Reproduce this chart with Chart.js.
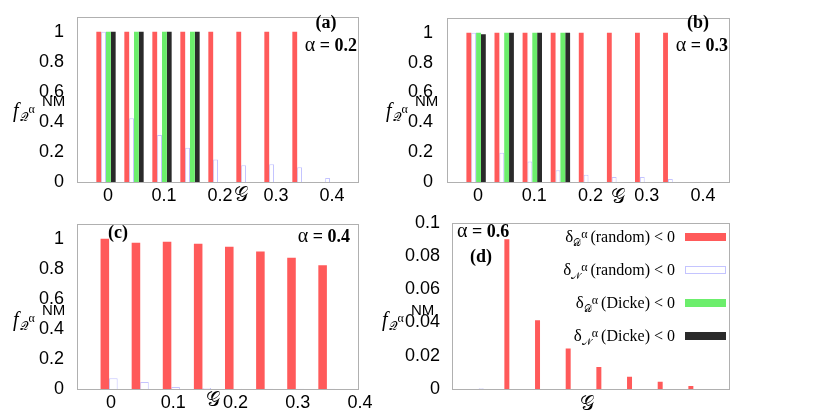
<!DOCTYPE html>
<html>
<head>
<meta charset="utf-8">
<script src="https://cdn.jsdelivr.net/npm/chart.js@4.4.0/dist/chart.umd.min.js"></script>
<style>
  html, body { margin: 0; padding: 0; background: #fff; }
  #wrap { position: relative; width: 830px; height: 415px; overflow: hidden; }
  canvas { position: absolute; }
</style>
</head>
<body>
<div id="wrap">
  <canvas id="pa" width="380" height="207" style="left:0;top:0"></canvas>
  <canvas id="pb" width="450" height="207" style="left:380px;top:0"></canvas>
  <canvas id="pc" width="380" height="208" style="left:0;top:207px"></canvas>
  <canvas id="pd" width="450" height="208" style="left:380px;top:207px"></canvas>
</div>
<script>
// G values (x categories)
const gLong = [0, 0.05, 0.10, 0.15, 0.20, 0.25, 0.30, 0.35, 0.40];
const gShort = [0, 0.05, 0.10, 0.15, 0.20, 0.25, 0.30, 0.35];
const xTickVals = [0, 0.1, 0.2, 0.3, 0.4];
const yTickVals = [0, 0.2, 0.4, 0.6, 0.8, 1];
const yTickValsD = [0, 0.02, 0.04, 0.06, 0.08, 0.1];

// (a) alpha = 0.2
const redA   = [1, 1, 1, 1, 1, 1, 1, 1, 0];
const blueA  = [1, 0.424, 0.313, 0.228, 0.150, 0.111, 0.119, 0.098, 0.026];
const greenA = [1, 1, 1, 1, 0, 0, 0, 0, 0];
const blackA = [1, 1, 1, 1, 0, 0, 0, 0, 0];

// (b) alpha = 0.3
const redB   = [1, 1, 1, 1, 1, 1, 1, 1, 0];
const blueB  = [1, 0.196, 0.137, 0.078, 0.048, 0.033, 0.033, 0.020, 0.002];
const greenB = [1, 1, 1, 1, 0, 0, 0, 0, 0];
const blackB = [0.99, 1, 1, 1, 0, 0, 0, 0, 0];

// (c) alpha = 0.4
const redC  = [1, 0.974, 0.980, 0.967, 0.948, 0.915, 0.874, 0.824];
const blueC = [0.072, 0.046, 0.013, 0.006, 0.002, 0.001, 0.001, 0.001];

// (d) alpha = 0.6
const redD   = [0, 0.0901, 0.0414, 0.0243, 0.0132, 0.0073, 0.0043, 0.0018];
const blueD  = [0.0004, 0, 0, 0, 0, 0, 0, 0];
const greenD = [0, 0, 0, 0, 0, 0, 0, 0];
const blackD = [0, 0, 0, 0, 0, 0, 0, 0];

const legendSub  = ["𝒟", "𝒩", "𝒟", "𝒩"];
const legendKind = ["(random)", "(random)", "(Dicke)", "(Dicke)"];

const RED = "#ff5a5a", BLUE = "#c4c4ff", GREEN = "#6cee6c", BLACK = "#2a2a2a";
const SANS = '"Liberation Sans", Arial, sans-serif';
const SERIF = '"Liberation Serif", "Times New Roman", serif';
const MATH = '"DejaVu Serif", "DejaVu Sans", serif';

function drawRich(ctx, x, y, parts, align) {
  let w = 0;
  parts.forEach(p => { ctx.font = p.f; w += ctx.measureText(p.t).width + (p.dx || 0); });
  if (align === "right") x -= w;
  if (align === "center") x -= w / 2;
  parts.forEach(p => {
    ctx.font = p.f;
    ctx.fillText(p.t, x, y + (p.dy || 0));
    x += ctx.measureText(p.t).width + (p.dx || 0);
  });
}

function yTitle(ctx, x, y) {
  ctx.fillStyle = "#000";
  ctx.textBaseline = "alphabetic";
  drawRich(ctx, x, y, [
    { t: "f", f: "italic 20px " + SERIF, dx: 1 },
    { t: "𝒬", f: "12px " + MATH, dy: 4 },
    { t: "α", f: "12px " + SERIF, dy: -4 }
  ]);
  ctx.font = "15px " + SANS;
  ctx.fillText("NM", x + 29, y - 11);
}

function xTitle(ctx, x, y) {
  ctx.fillStyle = "#000";
  ctx.textBaseline = "middle";
  ctx.textAlign = "center";
  ctx.font = "20px " + MATH;
  ctx.fillText("𝒢", x, y);
  ctx.textAlign = "left";
}

function alphaLabel(ctx, x, y, val, align) {
  ctx.fillStyle = "#000";
  ctx.textBaseline = "middle";
  drawRich(ctx, x, y, [
    { t: "α", f: "20px " + SERIF },
    { t: " = " + val, f: "bold 18px " + SERIF }
  ], align);
}

function tagLabel(ctx, x, y, txt, align) {
  ctx.fillStyle = "#000";
  ctx.textBaseline = "middle";
  ctx.font = "bold 18px " + SERIF;
  ctx.textAlign = align || "left";
  ctx.fillText(txt, x, y);
  ctx.textAlign = "left";
}

function deco(extra) {
  return {
    id: "deco",
    beforeDraw(chart) {
      const ctx = chart.ctx;
      ctx.save();
      ctx.fillStyle = "#fff";
      ctx.fillRect(0, 0, chart.width, chart.height);
      ctx.restore();
    },
    afterDraw(chart) {
      const ctx = chart.ctx, a = chart.chartArea;
      ctx.save();
      ctx.strokeStyle = "#b0b0b0";
      ctx.lineWidth = 1;
      ctx.strokeRect(Math.round(a.left) - 0.5, Math.round(a.top) + 0.5,
        Math.round(a.right - a.left) + 1, Math.round(a.bottom - a.top));
      extra(ctx, chart);
      ctx.restore();
    }
  };
}

function panel(id, p) {
  const datasets = p.series.map(s => ({
    data: s.data.map((v, i) => ({ x: p.cats[i], y: v })),
    backgroundColor: s.fill,
    borderColor: s.line || s.fill,
    borderWidth: s.line ? 1 : 0,
    categoryPercentage: p.catPct,
    barPercentage: 1
  }));
  new Chart(document.getElementById(id), {
    type: "bar",
    data: { datasets },
    plugins: [deco(p.draw)],
    options: {
      responsive: false,
      animation: false,
      events: [],
      layout: { padding: { left: 0, top: 13, right: p.padRight, bottom: 0 } },
      plugins: { legend: { display: false }, tooltip: { enabled: false } },
      scales: {
        x: {
          type: "linear",
          min: p.xMin, max: p.xMax,
          offset: false,
          grid: { display: false, offset: false },
          border: { display: false },
          ticks: {
            display: p.showX,
            font: { family: SANS, size: 18 },
            color: "#000",
            padding: -5,
            labelOffset: p.xLabelShift,
            maxRotation: 0,
            callback: v => String(v)
          },
          afterBuildTicks: s => { s.ticks = xTickVals.map(v => ({ value: v })); },
          afterFit: s => { s.height = p.xH; }
        },
        y: {
          min: 0, max: p.yMax,
          grid: { display: false },
          border: { display: false },
          ticks: {
            font: { family: SANS, size: 18 },
            color: "#000",
            padding: p.yPad,
            callback: v => String(v)
          },
          afterBuildTicks: s => { s.ticks = p.yTicks.map(v => ({ value: v })); },
          afterFit: s => { s.width = p.frameLeft; }
        }
      }
    }
  });
}

panel("pa", {
  cats: gLong, xMin: -0.05, xMax: 0.45, yMax: 1.1, yTicks: yTickVals,
  showX: true, frameLeft: 78, padRight: 22, yPad: 6, xH: 25, catPct: 0.69, xLabelShift: 2,
  series: [
    { data: redA, fill: RED }, { data: blueA, fill: "#ffffff", line: BLUE },
    { data: greenA, fill: GREEN }, { data: blackA, fill: BLACK }
  ],
  draw(ctx) {
    yTitle(ctx, 13, 117);
    xTitle(ctx, 241, 196);
    tagLabel(ctx, 326, 23, "(a)", "center");
    alphaLabel(ctx, 357, 46, "0.2", "right");
  }
});

panel("pb", {
  cats: gLong, xMin: -0.05, xMax: 0.45, yMax: 1.1, yTicks: yTickVals,
  showX: true, frameLeft: 68, padRight: 101, yPad: 7, xH: 25, catPct: 0.69, xLabelShift: 2,
  series: [
    { data: redB, fill: RED }, { data: blueB, fill: "#ffffff", line: BLUE },
    { data: greenB, fill: GREEN }, { data: blackB, fill: BLACK }
  ],
  draw(ctx) {
    yTitle(ctx, 6, 117);
    xTitle(ctx, 238, 198);
    tagLabel(ctx, 318, 23, "(b)", "center");
    alphaLabel(ctx, 348, 46, "0.3", "right");
  }
});

panel("pc", {
  cats: gShort, xMin: -0.05, xMax: 0.40, yMax: 1.1, yTicks: yTickVals,
  showX: true, frameLeft: 78, padRight: 22, yPad: 6, xH: 26, catPct: 0.55, xLabelShift: 2,
  series: [
    { data: redC, fill: RED }, { data: blueC, fill: "#ffffff", line: BLUE }
  ],
  draw(ctx) {
    yTitle(ctx, 13, 119);
    xTitle(ctx, 213, 194);
    tagLabel(ctx, 108, 26, "(c)");
    alphaLabel(ctx, 350, 30, "0.4", "right");
  }
});

panel("pd", {
  cats: gShort, xMin: -0.05, xMax: 0.40, yMax: 0.1, yTicks: yTickValsD,
  showX: false, frameLeft: 73, padRight: 101, yPad: 5, xH: 26, catPct: 0.65, xLabelShift: 0,
  series: [
    { data: redD, fill: RED }, { data: blueD, fill: "#ffffff", line: BLUE },
    { data: greenD, fill: GREEN }, { data: blackD, fill: BLACK }
  ],
  draw(ctx) {
    yTitle(ctx, 2, 119);
    xTitle(ctx, 207, 198);
    alphaLabel(ctx, 77, 25, "0.6");
    tagLabel(ctx, 90, 50, "(d)");
    // legend
    const fills = [RED, "#ffffff", GREEN, BLACK];
    const rows = [30, 63, 96, 129];
    rows.forEach((y, i) => {
      ctx.fillStyle = "#000";
      ctx.textBaseline = "alphabetic";
      drawRich(ctx, 295, y + 5, [
        { t: "δ", f: "17px " + SERIF },
        { t: legendSub[i], f: "10px " + MATH, dy: 4 },
        { t: "α", f: "12px " + SERIF, dy: -4, dx: 3 },
        { t: legendKind[i] + " < 0", f: "16px " + SERIF }
      ], "right");
      ctx.fillStyle = fills[i];
      ctx.fillRect(305, y - 4, 41, 8);
      if (i === 1) {
        ctx.strokeStyle = BLUE;
        ctx.lineWidth = 1;
        ctx.strokeRect(305.5, y - 3.5, 40, 7);
      }
    });
  }
});
</script>
</body>
</html>
